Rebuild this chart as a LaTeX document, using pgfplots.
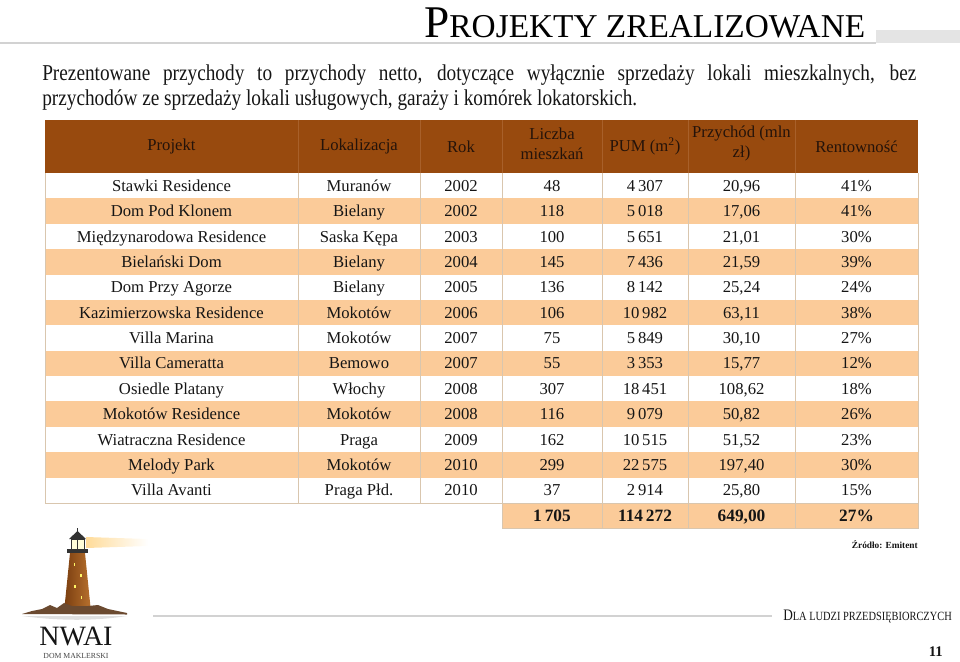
\documentclass[border=0pt]{standalone}
\usepackage{pgfplots}
\usepackage{pgfplotstable}
\pgfplotsset{compat=1.18}
\usepackage{fontspec}
\setmainfont{Liberation Serif}
\newfontfamily\subfont[FakeStretch=0.85]{Liberation Serif}
\newfontfamily\footfont[FakeStretch=0.83]{Liberation Serif}
\definecolor{hdr}{HTML}{984A0E}
\definecolor{hdrtxt}{HTML}{24130A}
\definecolor{hdrline}{HTML}{A8602A}
\definecolor{peach}{HTML}{FBCB99}
\definecolor{grid}{HTML}{D9C6AE}
\definecolor{graybar}{HTML}{E4E4E4}
\definecolor{linegray}{HTML}{D2D2D2}
\definecolor{txt}{HTML}{151515}
\definecolor{tower1}{HTML}{7A3E10}
\definecolor{tower2}{HTML}{B8712E}
\definecolor{ground}{HTML}{6B4A30}

\pgfplotstableread[col sep=semicolon]{
y;name;loc;rok;n;pum;rev;rent
185.7;Stawki Residence;Muranów;2002;48;4\,307;20,96;41\%
211.1;Dom Pod Klonem;Bielany;2002;118;5\,018;17,06;41\%
236.5;Międzynarodowa Residence;Saska Kępa;2003;100;5\,651;21,01;30\%
261.9;Bielański Dom;Bielany;2004;145;7\,436;21,59;39\%
287.3;Dom Przy Agorze;Bielany;2005;136;8\,142;25,24;24\%
312.6;Kazimierzowska Residence;Mokotów;2006;106;10\,982;63,11;38\%
338.0;Villa Marina;Mokotów;2007;75;5\,849;30,10;27\%
363.4;Villa Cameratta;Bemowo;2007;55;3\,353;15,77;12\%
388.8;Osiedle Platany;Włochy;2008;307;18\,451;108,62;18\%
414.2;Mokotów Residence;Mokotów;2008;116;9\,079;50,82;26\%
439.6;Wiatraczna Residence;Praga;2009;162;10\,515;51,52;23\%
465.0;Melody Park;Mokotów;2010;299;22\,575;197,40;30\%
490.4;Villa Avanti;Praga Płd.;2010;37;2\,914;25,80;15\%
}\projects

\pgfplotstableread[col sep=semicolon]{
x;y;val
552;515.7;1\,705
645;515.7;114\,272
741.5;515.7;649,00
856.5;515.7;27\%
}\totals

\pgfplotsset{
  txtcol/.style={draw=none, mark=none, forget plot, nodes near coords,
    point meta=explicit symbolic,
    every node near coord/.append style={anchor=center, inner sep=0pt,
      text height=8.3pt, text depth=0pt, text=txt,
      font=\fontsize{12.5}{14}\selectfont}},
}

\begin{document}
\begin{tikzpicture}
\path[use as bounding box] (0,0) rectangle (720pt,495.75pt);
\begin{axis}[at={(0,0)}, anchor=south west, scale only axis,
  width=720pt, height=495.75pt,
  xmin=0, xmax=960, ymin=0, ymax=661, y dir=reverse,
  hide axis, clip=false]

% ---- title bar
\fill[graybar] (axis cs:876,30) rectangle (axis cs:960,43);
\fill[linegray] (axis cs:0,42) rectangle (axis cs:876,44);
\node[anchor=base west, inner sep=0pt] at (axis cs:424,37)
  {\fontsize{34}{34}\selectfont P\fontsize{25}{25}\selectfont ROJEKTY ZREALIZOWANE};

% ---- subtitle
\node[anchor=base west, inner sep=0pt, text=txt] at (axis cs:42,80)
  {\parbox[t]{655.5pt}{\subfont\fontsize{17}{18.75}\selectfont
   Prezentowane przychody to przychody netto, dotyczące wyłącznie sprzedaży lokali mieszkalnych, bez\linebreak
   przychodów ze sprzedaży lokali usługowych, garaży i komórek lokatorskich.}};

% ---- table backgrounds
\fill[hdr] (axis cs:45,120) rectangle (axis cs:918,173);
\fill[peach] (axis cs:45,198.38) rectangle (axis cs:918,223.76);
\fill[peach] (axis cs:45,249.14) rectangle (axis cs:918,274.52);
\fill[peach] (axis cs:45,299.90) rectangle (axis cs:918,325.28);
\fill[peach] (axis cs:45,350.66) rectangle (axis cs:918,376.04);
\fill[peach] (axis cs:45,401.42) rectangle (axis cs:918,426.80);
\fill[peach] (axis cs:45,452.18) rectangle (axis cs:918,477.56);
\fill[peach] (axis cs:502,503) rectangle (axis cs:918,528);

% ---- grid lines
\draw[hdrline, line width=0.6pt] (axis cs:298,120) -- (axis cs:298,173);
\draw[hdrline, line width=0.6pt] (axis cs:420,120) -- (axis cs:420,173);
\draw[hdrline, line width=0.6pt] (axis cs:502,120) -- (axis cs:502,173);
\draw[hdrline, line width=0.6pt] (axis cs:602,120) -- (axis cs:602,173);
\draw[hdrline, line width=0.6pt] (axis cs:688,120) -- (axis cs:688,173);
\draw[hdrline, line width=0.6pt] (axis cs:795,120) -- (axis cs:795,173);
\draw[grid, line width=0.6pt] (axis cs:298,173) -- (axis cs:298,503);
\draw[grid, line width=0.6pt] (axis cs:420,173) -- (axis cs:420,503);
\draw[grid, line width=0.6pt] (axis cs:502,173) -- (axis cs:502,503);
\draw[grid, line width=0.6pt] (axis cs:602,173) -- (axis cs:602,528);
\draw[grid, line width=0.6pt] (axis cs:688,173) -- (axis cs:688,528);
\draw[grid, line width=0.6pt] (axis cs:795,173) -- (axis cs:795,528);
\draw[grid, line width=0.7pt] (axis cs:45,173) -- (axis cs:45,503) -- (axis cs:918,503);
\draw[grid, line width=0.7pt] (axis cs:918,173) -- (axis cs:918,528) -- (axis cs:502,528) -- (axis cs:502,503);

% ---- header texts
\node[text=hdrtxt, font=\fontsize{12.5}{15}\selectfont, align=center, inner sep=0pt] at (axis cs:171.5,146.5) {Projekt};
\node[text=hdrtxt, font=\fontsize{12.5}{15}\selectfont, align=center, inner sep=0pt] at (axis cs:359,146.5) {Lokalizacja};
\node[text=hdrtxt, font=\fontsize{12.5}{15}\selectfont, align=center, inner sep=0pt] at (axis cs:461,146.5) {Rok};
\node[text=hdrtxt, font=\fontsize{12.5}{15}\selectfont, align=center, inner sep=0pt] at (axis cs:552,143.5) {Liczba\\mieszkań};
\node[text=hdrtxt, font=\fontsize{12.5}{15}\selectfont, align=center, inner sep=0pt] at (axis cs:645,146.5) {PUM (m\textsuperscript{2})};
\node[text=hdrtxt, font=\fontsize{12.5}{15}\selectfont, align=center, inner sep=0pt] at (axis cs:741.5,143.5) {Przychód (mln\\zł)};
\node[text=hdrtxt, font=\fontsize{12.5}{15}\selectfont, align=center, inner sep=0pt] at (axis cs:856.5,146.5) {Rentowność};

% ---- table data
\addplot[txtcol] table[x expr=171.5, y=y, meta=name] {\projects};
\addplot[txtcol] table[x expr=359, y=y, meta=loc] {\projects};
\addplot[txtcol] table[x expr=461, y=y, meta=rok] {\projects};
\addplot[txtcol] table[x expr=552, y=y, meta=n] {\projects};
\addplot[txtcol] table[x expr=645, y=y, meta=pum] {\projects};
\addplot[txtcol] table[x expr=741.5, y=y, meta=rev] {\projects};
\addplot[txtcol] table[x expr=856.5, y=y, meta=rent] {\projects};
\addplot[txtcol, every node near coord/.append style={font=\fontsize{13}{14}\selectfont\bfseries}]
  table[x=x, y=y, meta=val] {\totals};

% ---- source
\node[anchor=east, inner sep=0pt, text=txt] at (axis cs:918,545)
  {\fontsize{7}{8}\selectfont\bfseries Źródło: Emitent};

% ---- footer
\fill[linegray] (axis cs:153,614.5) rectangle (axis cs:772,616.5);
\node[anchor=base west, inner sep=0pt, text=txt] at (axis cs:783,620)
  {\footfont\fontsize{12}{12}\selectfont D\fontsize{9.4}{9.4}\selectfont LA LUDZI PRZEDSIĘBIORCZYCH};
\node[anchor=base east, inner sep=0pt, text=txt] at (axis cs:943,656)
  {\fontsize{11}{11}\selectfont\bfseries 11};

% ---- logo
\shade[left color=yellow!30!orange!40, right color=white] (axis cs:86,537) -- (axis cs:148,539) -- (axis cs:148,546) -- (axis cs:86,548) -- cycle;
\fill[gray!25] (axis cs:22,616) .. controls (axis cs:60,621) and (axis cs:95,621) .. (axis cs:127,616) -- cycle;
\shade[left color=tower1, right color=tower2] (axis cs:64,612) -- (axis cs:70,553) -- (axis cs:85,553) -- (axis cs:91,612) -- cycle;
\fill[black!80] (axis cs:67,549) rectangle (axis cs:88,553);
\fill[yellow!15] (axis cs:71,539) rectangle (axis cs:84,549);
\draw[black!80, line width=0.6pt] (axis cs:71,539) rectangle (axis cs:84,549);
\draw[black!80, line width=0.5pt] (axis cs:77.5,539) -- (axis cs:77.5,549);
\fill[black!80] (axis cs:69,539) -- (axis cs:77.5,531) -- (axis cs:86,539) -- cycle;
\fill[black!80] (axis cs:77,528) rectangle (axis cs:78,531);
\fill[yellow!60] (axis cs:73.5,563) rectangle (axis cs:75,566);
\fill[yellow!60] (axis cs:80,574) rectangle (axis cs:81.5,577);
\fill[yellow!60] (axis cs:74,585) rectangle (axis cs:75.5,588);
\fill[yellow!60] (axis cs:80.5,596) rectangle (axis cs:82,599);
\fill[ground] (axis cs:22,614) -- (axis cs:32,611) -- (axis cs:42,609) -- (axis cs:50,605) -- (axis cs:57,608) -- (axis cs:64,603) -- (axis cs:72,606) -- (axis cs:88,606) -- (axis cs:98,605) -- (axis cs:108,609) -- (axis cs:127,613) -- (axis cs:127,614.5) -- cycle;
\node[inner sep=0pt, text=txt] at (axis cs:76,636) {\fontsize{21}{21}\selectfont NWAI};
\node[inner sep=0pt, text=txt!80] at (axis cs:76,656) {\fontsize{5.8}{6}\selectfont DOM MAKLERSKI};
\end{axis}
\end{tikzpicture}
\end{document}
